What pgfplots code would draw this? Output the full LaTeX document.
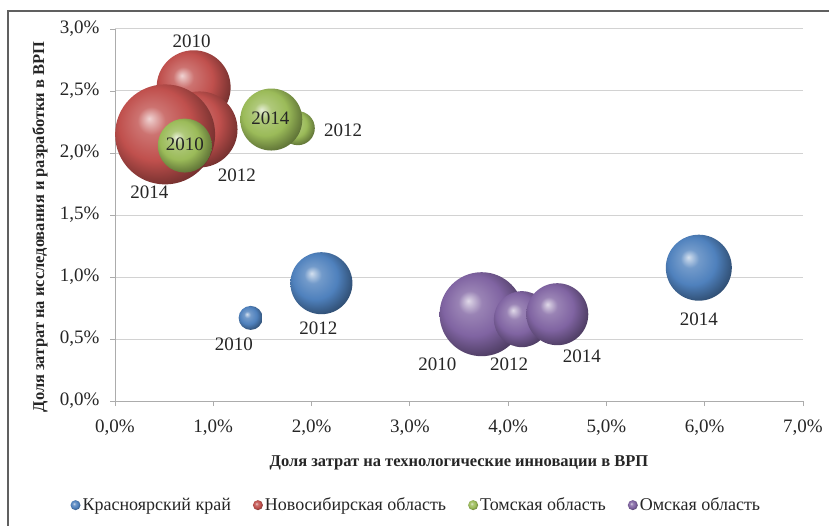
\documentclass[border=0pt]{standalone}
\usepackage{fontspec}
\setmainfont{Liberation Serif}
\usepackage{pgfplots}
\pgfplotsset{compat=1.18}

\definecolor{cK}{HTML}{4F81BD}
\definecolor{cN}{HTML}{C0504D}
\definecolor{cT}{HTML}{9BBB59}
\definecolor{cO}{HTML}{8064A2}

% shaded sphere marker, one per series colour
\newcommand\defbubble[1]{%
  \pgfdeclareradialshading{sh#1}{\pgfpoint{-8bp}{8bp}}{%
    color(0bp)=(c#1!25!white); color(7bp)=(c#1!80!white); color(18bp)=(c#1);
    color(26bp)=(c#1!72!black); color(34bp)=(c#1!45!black); color(50bp)=(c#1!45!black)}%
  \pgfdeclareplotmark{b#1}{\pgfpathcircle{\pgfpointorigin}{\pgfplotmarksize}\pgfshadepath{sh#1}{0}\pgfusepath{}}%
}
\defbubble{K}\defbubble{N}\defbubble{T}\defbubble{O}

% x, y in %, r = bubble radius
\pgfplotstableread{
x y r
1.38 0.67 12
2.10 0.95 31
5.94 1.075 33
}\krasn
\pgfplotstableread{
x y r
0.80 2.53 37
0.86 2.19 38
0.51 2.15 50
}\novos
\pgfplotstableread{
x y r
0.71 2.06 27
1.86 2.20 17
1.59 2.27 31
}\tomsk
\pgfplotstableread{
x y r
3.73 0.70 42
4.14 0.66 28
4.50 0.70 31
}\omsk
\pgfplotstableread{
x y t
1.21 0.46 2010
2.07 0.59 2012
5.94 0.66 2014
0.78 2.905 2010
1.24 1.82 2012
0.35 1.68 2014
0.71 2.07 2010
2.32 2.185 2012
1.58 2.28 2014
3.28 0.30 2010
4.01 0.30 2012
4.75 0.36 2014
}\years

\begin{document}
\begin{tikzpicture}
\path[use as bounding box] (0,0) rectangle (829pt,525pt);
\draw[gray!75!black, line width=1.6pt] (8pt,-2pt) -- (8pt,514pt) -- (831pt,514pt);
\begin{axis}[
  at={(115pt,124pt)}, anchor=south west,
  scale only axis, width=688pt, height=372pt,
  xmin=0, xmax=7, ymin=0, ymax=3,
  axis lines*=left,
  axis line style={gray!65, line width=0.9pt},
  xtick={0,1,...,7}, ytick={0,0.5,...,3},
  xticklabels={{0,0\%},{1,0\%},{2,0\%},{3,0\%},{4,0\%},{5,0\%},{6,0\%},{7,0\%}},
  yticklabels={{0,0\%},{0,5\%},{1,0\%},{1,5\%},{2,0\%},{2,5\%},{3,0\%}},
  tick align=outside, major tick length=5pt,
  tick style={gray!65, line width=0.9pt},
  ymajorgrids, grid style={gray!35, line width=1pt},
  ticklabel style={font=\fontsize{19}{22}\selectfont, text=black!85},
  xticklabel style={yshift=-10pt},
  yticklabel style={xshift=-7pt},
  xlabel={Доля затрат на технологические инновации в ВРП},
  ylabel={Доля затрат на исследования и разработки в ВРП},
  label style={font=\fontsize{16.5}{19}\selectfont\bfseries, text=black!85},
  x label style={at={(axis description cs:0.5,-0.167)}, anchor=center},
  y label style={at={(axis description cs:-0.109,0.468)}, anchor=center},
  legend columns=4,
  legend style={at={(axis description cs:0.438,-0.28)}, anchor=center,
    draw=none, fill=none, font=\fontsize{18}{21}\selectfont, text=black!85,
    /tikz/every even column/.append style={column sep=20pt},
    inner sep=0pt},
  legend cell align=left,
  scatter/@pre marker code/.append style={/tikz/mark size=\rr},
]
\addlegendimage{legend image code/.code={\draw[only marks,mark=bK,mark size=5pt] plot coordinates {(0pt,0pt)};}}
\addlegendentry{Красноярский край}
\addlegendimage{legend image code/.code={\draw[only marks,mark=bN,mark size=5pt] plot coordinates {(0pt,0pt)};}}
\addlegendentry{Новосибирская область}
\addlegendimage{legend image code/.code={\draw[only marks,mark=bT,mark size=5pt] plot coordinates {(0pt,0pt)};}}
\addlegendentry{Томская область}
\addlegendimage{legend image code/.code={\draw[only marks,mark=bO,mark size=5pt] plot coordinates {(0pt,0pt)};}}
\addlegendentry{Омская область}

\addplot[forget plot, scatter, only marks, mark=bK, point meta=explicit,
  visualization depends on={\thisrow{r}\as\rr}] table[x=x,y=y,meta=r] {\krasn};
\addplot[forget plot, scatter, only marks, mark=bN, point meta=explicit,
  visualization depends on={\thisrow{r}\as\rr}] table[x=x,y=y,meta=r] {\novos};
\addplot[forget plot, scatter, only marks, mark=bT, point meta=explicit,
  visualization depends on={\thisrow{r}\as\rr}] table[x=x,y=y,meta=r] {\tomsk};
\addplot[forget plot, scatter, only marks, mark=bO, point meta=explicit,
  visualization depends on={\thisrow{r}\as\rr}] table[x=x,y=y,meta=r] {\omsk};

\addplot[forget plot, only marks, mark=none, point meta=explicit symbolic,
  nodes near coords,
  every node near coord/.append style={anchor=center, inner sep=0pt,
    font=\fontsize{19}{22}\selectfont, text=black!85}]
  table[x=x,y=y,meta=t] {\years};
\end{axis}
\end{tikzpicture}
\end{document}
